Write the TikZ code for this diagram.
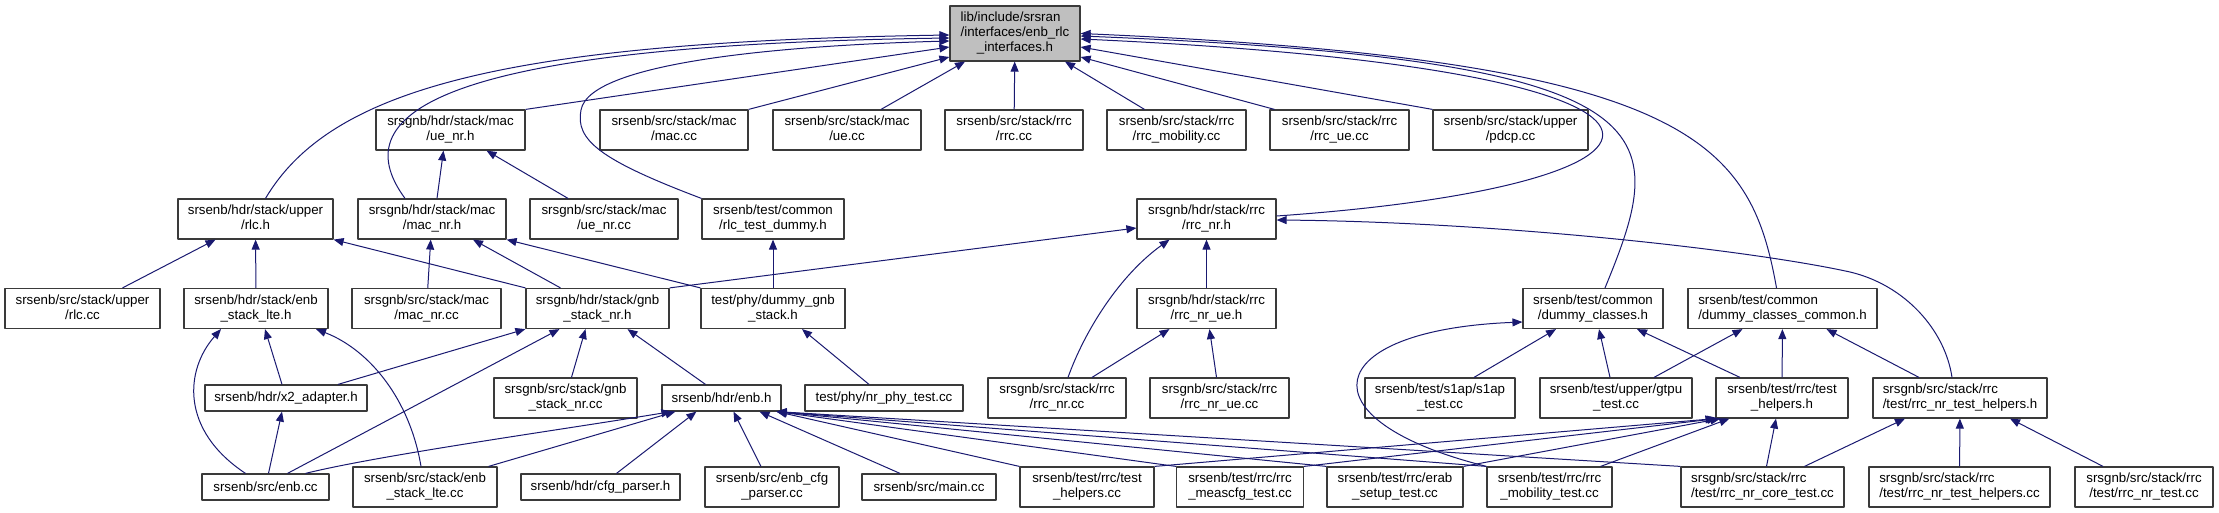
\documentclass[tikz,border=0pt]{standalone}
\usepackage{fontspec}
\setmainfont{Liberation Sans}
\usetikzlibrary{arrows.meta}
\definecolor{edgeblue}{HTML}{191970}
\definecolor{boxline}{HTML}{3A3A3A}
\definecolor{rootfill}{HTML}{BFBFBF}
% graphviz style label: upper lines flush left, last line centred
\newcommand{\lbl}[2]{\begin{tabular}{@{}l@{}}#1\\\multicolumn{1}{@{}c@{}}{#2}\end{tabular}}

\begin{document}
\begin{tikzpicture}[
  x=1pt,y=-1pt,
  line join=round,
  >={Triangle[length=10pt,width=8pt]},
  every node/.style={font=\fontsize{13.3}{15}\selectfont},
  file/.style={draw=boxline,fill=white,line width=1.2pt,inner sep=0pt,
    minimum height=40pt},
  onefile/.style={file,minimum height=26pt},
  dep/.style={->,draw=edgeblue,line width=1pt}
]
\useasboundingbox (0,0) rectangle (2219,513);

\node[file,fill=rootfill,minimum width=130pt,minimum height=55pt] (root) at (1015,33.5)
  {\begin{tabular}{@{}l@{}}lib/include/srsran\\/interfaces/enb\_rlc\\
   \multicolumn{1}{@{}c@{}}{\_interfaces.h}\end{tabular}};

% first row
\node[file,minimum width=149pt] (uenrh) at (450.5,130) {\lbl{srsgnb/hdr/stack/mac}{/ue\_nr.h}};
\node[file,minimum width=148pt] (maccc) at (674,130) {\lbl{srsenb/src/stack/mac}{/mac.cc}};
\node[file,minimum width=148pt] (uecc) at (847,130) {\lbl{srsenb/src/stack/mac}{/ue.cc}};
\node[file,minimum width=138pt] (rrccc) at (1014,130) {\lbl{srsenb/src/stack/rrc}{/rrc.cc}};
\node[file,minimum width=139pt] (rrcmobcc) at (1176.5,130) {\lbl{srsenb/src/stack/rrc}{/rrc\_mobility.cc}};
\node[file,minimum width=139pt] (rrcuecc) at (1339.5,130) {\lbl{srsenb/src/stack/rrc}{/rrc\_ue.cc}};
\node[file,minimum width=155pt] (pdcpcc) at (1510.5,130) {\lbl{srsenb/src/stack/upper}{/pdcp.cc}};

% second row
\node[file,minimum width=155pt] (rlch) at (255.5,219) {\lbl{srsenb/hdr/stack/upper}{/rlc.h}};
\node[file,minimum width=148pt] (macnrh) at (432,219) {\lbl{srsgnb/hdr/stack/mac}{/mac\_nr.h}};
\node[file,minimum width=148pt] (uenrcc) at (604,219) {\lbl{srsgnb/src/stack/mac}{/ue\_nr.cc}};
\node[file,minimum width=142pt] (rlcdummyh) at (773,219) {\lbl{srsenb/test/common}{/rlc\_test\_dummy.h}};
\node[file,minimum width=139pt] (rrcnrh) at (1206.5,219) {\lbl{srsgnb/hdr/stack/rrc}{/rrc\_nr.h}};

% third row
\node[file,minimum width=155pt] (rlccc) at (82.5,308.5) {\lbl{srsenb/src/stack/upper}{/rlc.cc}};
\node[file,minimum width=144pt] (enbstackh) at (256,308.5) {\lbl{srsenb/hdr/stack/enb}{\_stack\_lte.h}};
\node[file,minimum width=149pt] (macnrcc) at (426.5,308.5) {\lbl{srsgnb/src/stack/mac}{/mac\_nr.cc}};
\node[file,minimum width=143pt] (gnbstackh) at (597.5,308.5) {\lbl{srsgnb/hdr/stack/gnb}{\_stack\_nr.h}};
\node[file,minimum width=144pt] (dummygnbh) at (773,308.5) {\lbl{test/phy/dummy\_gnb}{\_stack.h}};
\node[file,minimum width=139pt] (rrcnrueh) at (1206.5,308.5) {\lbl{srsgnb/hdr/stack/rrc}{/rrc\_nr\_ue.h}};
\node[file,minimum width=140pt] (dummyh) at (1593,308.5) {\lbl{srsenb/test/common}{/dummy\_classes.h}};
\node[file,minimum width=189pt] (dummycomh) at (1782.5,308.5) {\lbl{srsenb/test/common}{/dummy\_classes\_common.h}};

% fourth row
\node[onefile,minimum width=162pt] (x2h) at (286,398) {srsenb/hdr/x2\_adapter.h};
\node[file,minimum width=143pt] (gnbstackcc) at (565.5,398) {\lbl{srsgnb/src/stack/gnb}{\_stack\_nr.cc}};
\node[onefile,minimum width=119pt] (enbh) at (721.5,398) {srsenb/hdr/enb.h};
\node[onefile,minimum width=158pt] (nrphycc) at (884,398) {test/phy/nr\_phy\_test.cc};
\node[file,minimum width=138pt] (rrcnrcc) at (1057,398) {\lbl{srsgnb/src/stack/rrc}{/rrc\_nr.cc}};
\node[file,minimum width=139pt] (rrcnruecc) at (1219.5,398) {\lbl{srsgnb/src/stack/rrc}{/rrc\_nr\_ue.cc}};
\node[file,minimum width=150pt] (s1apcc) at (1440,398) {\lbl{srsenb/test/s1ap/s1ap}{\_test.cc}};
\node[file,minimum width=152pt] (gtpucc) at (1616,398) {\lbl{srsenb/test/upper/gtpu}{\_test.cc}};
\node[file,minimum width=132pt] (helpersh) at (1782,398) {\lbl{srsenb/test/rrc/test}{\_helpers.h}};
\node[file,minimum width=174pt] (nrhelpersh) at (1960,398) {\lbl{srsgnb/src/stack/rrc}{/test/rrc\_nr\_test\_helpers.h}};

% bottom row
\node[onefile,minimum width=127pt] (enbcc) at (265.5,487) {srsenb/src/enb.cc};
\node[file,minimum width=144pt] (enbstackcc) at (425,487) {\lbl{srsenb/src/stack/enb}{\_stack\_lte.cc}};
\node[onefile,minimum width=159pt] (cfgh) at (600.5,487) {srsenb/hdr/cfg\_parser.h};
\node[file,minimum width=134pt] (cfgcc) at (772,487) {\lbl{srsenb/src/enb\_cfg}{\_parser.cc}};
\node[onefile,minimum width=134pt] (maincc) at (929,487) {srsenb/src/main.cc};
\node[file,minimum width=134pt] (helperscc) at (1087,487) {\lbl{srsenb/test/rrc/test}{\_helpers.cc}};
\node[file,minimum width=127pt] (meascc) at (1240,487) {\lbl{srsenb/test/rrc/rrc}{\_meascfg\_test.cc}};
\node[file,minimum width=136pt] (erabcc) at (1395,487) {\lbl{srsenb/test/rrc/erab}{\_setup\_test.cc}};
\node[file,minimum width=125pt] (mobtestcc) at (1549.5,487) {\lbl{srsenb/test/rrc/rrc}{\_mobility\_test.cc}};
\node[file,minimum width=163pt] (nrcorecc) at (1762.5,487) {\lbl{srsgnb/src/stack/rrc}{/test/rrc\_nr\_core\_test.cc}};
\node[file,minimum width=181pt] (nrhelperscc) at (1959.5,487) {\lbl{srsgnb/src/stack/rrc}{/test/rrc\_nr\_test\_helpers.cc}};
\node[file,minimum width=138pt] (nrtestcc) at (2144,487) {\lbl{srsgnb/src/stack/rrc}{/test/rrc\_nr\_test.cc}};

% everything that includes the interface header
\draw[dep] ([xshift=10pt]rlch.north) .. controls (330,90) and (500,42) .. ([yshift=-1.5pt]root.west);
\draw[dep] ([xshift=-27pt]macnrh.north) .. controls (340,110) and (450,45) .. ([yshift=-4.5pt]root.west);
\draw[dep] (rlcdummyh.north west) .. controls (600,160) and (575,140) .. (581,110)
  .. controls (590,60) and (800,45) .. ([yshift=-7.5pt]root.west);
\draw[dep] (uenrh.north east) -- ([yshift=-13.5pt]root.west);
\draw[dep] (maccc.north east) -- ([yshift=-23.5pt]root.west);
\draw[dep] ([xshift=34pt]uecc.north) -- ([xshift=-50pt]root.south);
\draw[dep] (rrccc) -- (root);
\draw[dep] ([xshift=-32pt]rrcmobcc.north) -- ([xshift=50pt]root.south);
\draw[dep] ([xshift=-65pt]rrcuecc.north) -- ([yshift=-23.5pt]root.east);
\draw[dep] (pdcpcc.north west) -- ([yshift=-13.5pt]root.east);
\draw[dep] ([yshift=3pt]rrcnrh.east) .. controls (1720,185) and (1760,70) .. ([yshift=-5.5pt]root.east);
\draw[dep] ([xshift=12pt]dummyh.north) .. controls (1670,130) and (1680,60) .. ([yshift=-2.5pt]root.east);
\draw[dep] ([xshift=-6pt]dummycomh.north) .. controls (1750,140) and (1690,60) .. (root.east);

% mac / rlc / rrc headers
\draw[dep] ([xshift=5pt]macnrh.north) -- ([xshift=-7pt]uenrh.south);
\draw[dep] ([xshift=-36pt]uenrcc.north) -- ([xshift=36pt]uenrh.south);
\draw[dep] ([xshift=40pt]rlccc.north) -- ([xshift=-40pt]rlch.south);
\draw[dep] (enbstackh) -- (rlch);
\draw[dep] (gnbstackh.north west) -- (rlch.south east);
\draw[dep] (macnrcc) -- (macnrh);
\draw[dep] ([xshift=-37pt]gnbstackh.north) -- ([xshift=41pt]macnrh.south);
\draw[dep] (dummygnbh.north west) -- (macnrh.south east);
\draw[dep] (dummygnbh) -- (rlcdummyh);
\draw[dep] (gnbstackh.north east) -- ([yshift=-9pt]rrcnrh.west);
\draw[dep] ([xshift=11pt]rrcnrcc.north) .. controls (1085,330) and (1120,275) .. ([xshift=-37pt]rrcnrh.south);
\draw[dep] (rrcnrueh) -- (rrcnrh);
\draw[dep] ([xshift=-8pt]nrhelpersh.north) .. controls (1945,330) and (1905,285) .. (1850,272)
  .. controls (1750,250) and (1500,222) .. ([yshift=-1pt]rrcnrh.east);

% stack headers and test helpers
\draw[dep] ([xshift=-4pt]x2h.north) -- ([xshift=9pt]enbstackh.south);
\draw[dep] ([xshift=-20pt]enbcc.north) .. controls (180,430) and (185,370) .. ([xshift=-35pt]enbstackh.south);
\draw[dep] ([xshift=-4pt]enbstackcc.north) .. controls (410,400) and (370,350) .. ([xshift=60pt]enbstackh.south);
\draw[dep] ([xshift=52pt]x2h.north) -- (gnbstackh.south west);
\draw[dep] ([xshift=22pt]enbcc.north) -- ([xshift=-38pt]gnbstackh.south);
\draw[dep] (gnbstackcc) -- ([xshift=-12pt]gnbstackh.south);
\draw[dep] ([xshift=-16pt]enbh.north) -- ([xshift=30pt]gnbstackh.south);
\draw[dep] ([xshift=-15pt]nrphycc.north) -- ([xshift=29pt]dummygnbh.south);
\draw[dep] ([xshift=35pt]rrcnrcc.north) -- ([xshift=-37pt]rrcnrueh.south);
\draw[dep] (rrcnruecc) -- (rrcnrueh);
\draw[dep] ([xshift=34pt]s1apcc.north) -- ([xshift=-37pt]dummyh.south);
\draw[dep] ([xshift=-6pt]gtpucc.north) -- ([xshift=6pt]dummyh.south);
\draw[dep] ([xshift=-42pt]helpersh.north) -- ([xshift=44pt]dummyh.south);
\draw[dep] ([xshift=-63pt]mobtestcc.north) .. controls (1300,420) and (1320,330) .. ([yshift=-13.5pt]dummyh.west);
\draw[dep] ([xshift=38pt]gtpucc.north) -- ([xshift=-40pt]dummycomh.south);
\draw[dep] (helpersh) -- (dummycomh);
\draw[dep] ([xshift=-41pt]nrhelpersh.north) -- ([xshift=44pt]dummycomh.south);

% bottom row into enb.h, x2_adapter.h and the rrc test helpers
\draw[dep] ([xshift=3pt]enbcc.north) -- ([xshift=-4pt]x2h.south);
\draw[dep] ([xshift=40pt]enbcc.north) .. controls (380,455) and (560,430) .. ([xshift=10pt]enbh.south west);
\draw[dep] ([xshift=-9pt]enbstackcc.north east) -- ([xshift=14pt]enbh.south west);
\draw[dep] ([xshift=16pt]cfgh.north) -- ([xshift=35pt]enbh.south west);
\draw[dep] ([xshift=-11pt]cfgcc.north) -- ([xshift=12pt]enbh.south);
\draw[dep] ([xshift=-29pt]maincc.north) -- ([xshift=38pt]enbh.south);
\draw[dep] (helperscc.north west) -- ([xshift=-5pt]enbh.south east);
\draw[dep] (meascc.north west) -- ([xshift=-5pt]enbh.south east);
\draw[dep] (erabcc.north west) -- ([xshift=-5pt]enbh.south east);
\draw[dep] (mobtestcc.north west) -- ([xshift=-5pt]enbh.south east);
\draw[dep] (nrcorecc.north west) -- ([xshift=-5pt]enbh.south east);
\draw[dep] (helperscc.north east) -- (helpersh.south west);
\draw[dep] (meascc.north east) -- ([xshift=2pt]helpersh.south west);
\draw[dep] (erabcc.north east) -- ([xshift=5pt]helpersh.south west);
\draw[dep] ([xshift=-12pt]mobtestcc.north east) -- ([xshift=14pt]helpersh.south west);
\draw[dep] ([xshift=4pt]nrcorecc.north) -- ([xshift=-6pt]helpersh.south);
\draw[dep] ([xshift=42pt]nrcorecc.north) -- ([xshift=-55pt]nrhelpersh.south);
\draw[dep] (nrhelperscc) -- (nrhelpersh);
\draw[dep] ([xshift=-41pt]nrtestcc.north) -- ([xshift=50pt]nrhelpersh.south);

\end{tikzpicture}
\end{document}
